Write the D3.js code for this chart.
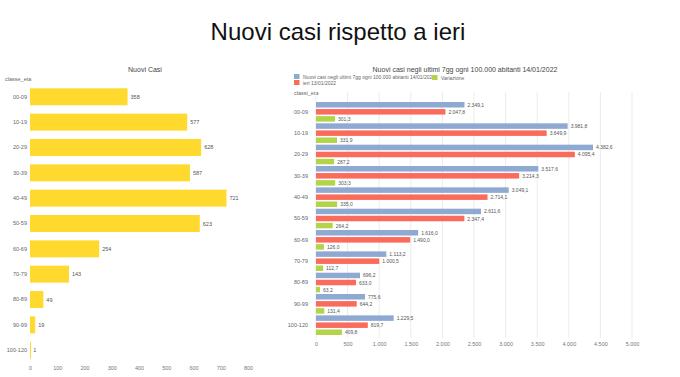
<!DOCTYPE html>
<html>
<head>
<meta charset="utf-8">
<script src="https://cdn.jsdelivr.net/npm/d3@7"></script>
<style>
  body { margin: 0; background: #fff; }
  text { font-family: "Liberation Sans", Arial, sans-serif; }
</style>
</head>
<body>
<div id="chart-area"></div>
<script>
// data
var classi = ["00-09", "10-19", "20-29", "30-39", "40-49", "50-59", "60-69", "70-79", "80-89", "90-99", "100-120"];
var nuoviCasi = [358, 577, 628, 587, 721, 623, 254, 143, 49, 19, 1];
var leftTicks = [0, 100, 200, 300, 400, 500, 600, 700, 800];

var casi7gg = [2349.1, 3981.8, 4382.6, 3517.6, 3049.1, 2611.6, 1616.0, 1113.2, 696.2, 775.6, 1229.5];
var casiIeri = [2047.8, 3649.9, 4095.4, 3214.3, 2714.1, 2347.4, 1490.0, 1000.5, 633.0, 644.2, 819.7];
var variazione = [301.3, 331.9, 287.2, 303.3, 335.0, 264.2, 126.0, 112.7, 63.2, 131.4, 409.8];
var rightTicks = [0, 500, 1000, 1500, 2000, 2500, 3000, 3500, 4000, 4500, 5000];

var seriesNames = ["Nuovi casi negli ultimi 7gg ogni 100.000 abitanti 14/01/2022", "ieri 13/01/2022", "Variazione"];
var seriesColors = ["#8eaad2", "#fb6b5b", "#b3d44a"];

var width = 680, height = 377;
var it = d3.formatLocale({ decimal: ",", thousands: ".", grouping: [3], currency: ["€", ""] });
var fmt1 = it.format(",.1f");
var fmt0 = it.format(",.0f");

var svg = d3.select("#chart-area")
    .append("svg")
        .attr("width", width)
        .attr("height", height);

svg.append("text")
    .attr("x", 338)
    .attr("y", 40)
    .attr("text-anchor", "middle")
    .attr("font-size", "24px")
    .attr("fill", "#111")
    .text("Nuovi casi rispetto a ieri");

// ---- left chart
var xL = d3.scaleLinear().domain([0, 800]).range([30, 248]);
var yL = d3.scaleBand().domain(classi).range([84, 363]).paddingInner(0.33).paddingOuter(0.17);

var gL = svg.append("g");

gL.append("text")
    .attr("x", 145).attr("y", 72)
    .attr("text-anchor", "middle")
    .attr("font-size", "7px")
    .attr("fill", "#444")
    .text("Nuovi Casi");

gL.append("text")
    .attr("x", 5).attr("y", 81)
    .attr("font-size", "5.5px")
    .attr("fill", "#666")
    .text("classe_eta");

gL.selectAll("rect")
    .data(nuoviCasi)
    .enter()
    .append("rect")
        .attr("x", xL(0))
        .attr("y", function(d, i) { return yL(classi[i]); })
        .attr("width", function(d) { return Math.max(xL(d) - xL(0), 1); })
        .attr("height", yL.bandwidth())
        .attr("fill", "#ffd92e");

gL.selectAll(".val")
    .data(nuoviCasi)
    .enter()
    .append("text")
        .attr("class", "val")
        .attr("x", function(d) { return xL(d) + 3; })
        .attr("y", function(d, i) { return yL(classi[i]) + yL.bandwidth() / 2 + 2; })
        .attr("font-size", "5.5px")
        .attr("fill", "#555")
        .text(function(d) { return d; });

var yAxisL = gL.append("g")
    .attr("transform", "translate(27, 0)")
    .call(d3.axisLeft(yL).tickSize(0).tickPadding(0));
yAxisL.select(".domain").remove();
yAxisL.selectAll("text").attr("font-size", "5.5px").attr("fill", "#666")
    .attr("font-family", "Liberation Sans, Arial, sans-serif");

var xAxisL = gL.append("g")
    .attr("transform", "translate(0, 366)")
    .call(d3.axisBottom(xL).tickValues(leftTicks).tickSize(0).tickPadding(0));
xAxisL.select(".domain").remove();
xAxisL.selectAll("text").attr("font-size", "5.5px").attr("fill", "#777")
    .attr("font-family", "Liberation Sans, Arial, sans-serif");

// ---- right chart
var xR = d3.scaleLinear().domain([0, 5000]).range([316, 632]);
var yR = d3.scaleBand().domain(classi).range([102, 335]).paddingInner(0.08).paddingOuter(0);
var yS = d3.scaleBand().domain([0, 1, 2]).range([0, yR.bandwidth()]).paddingInner(0.22);

var gR = svg.append("g");

gR.append("text")
    .attr("x", 465).attr("y", 72)
    .attr("text-anchor", "middle")
    .attr("font-size", "7px")
    .attr("fill", "#444")
    .text("Nuovi casi negli ultimi 7gg ogni 100.000 abitanti 14/01/2022");

// legend
var legendPos = [[294, 74], [294, 80], [432, 75]];
seriesNames.forEach(function(name, i) {
    gR.append("rect")
        .attr("x", legendPos[i][0]).attr("y", legendPos[i][1])
        .attr("width", 5.5).attr("height", 5)
        .attr("fill", seriesColors[i]);
    gR.append("text")
        .attr("x", legendPos[i][0] + 9).attr("y", legendPos[i][1] + 4.5)
        .attr("font-size", "5px")
        .attr("fill", "#666")
        .text(name);
});

gR.append("text")
    .attr("x", 294).attr("y", 95)
    .attr("font-size", "5.5px")
    .attr("fill", "#666")
    .text("classi_eta");

// grid
gR.selectAll(".grid")
    .data(rightTicks)
    .enter()
    .append("line")
        .attr("class", "grid")
        .attr("x1", function(d) { return xR(d); })
        .attr("x2", function(d) { return xR(d); })
        .attr("y1", 92).attr("y2", 338)
        .attr("stroke", "#e6e6e6")
        .attr("stroke-width", 0.8);

var series = [casi7gg, casiIeri, variazione];
series.forEach(function(vals, s) {
    gR.selectAll(".bar" + s)
        .data(vals)
        .enter()
        .append("rect")
            .attr("class", "bar" + s)
            .attr("x", xR(0))
            .attr("y", function(d, i) { return yR(classi[i]) + yS(s); })
            .attr("width", function(d) { return xR(d) - xR(0); })
            .attr("height", yS.bandwidth())
            .attr("fill", seriesColors[s]);

    gR.selectAll(".lab" + s)
        .data(vals)
        .enter()
        .append("text")
            .attr("class", "lab" + s)
            .attr("x", function(d) { return xR(d) + 3; })
            .attr("y", function(d, i) { return yR(classi[i]) + yS(s) + yS.bandwidth() / 2 + 2; })
            .attr("font-size", "5px")
            .attr("fill", "#555")
            .text(function(d) { return fmt1(d); });
});

var yAxisR = gR.append("g")
    .attr("transform", "translate(308, 0)")
    .call(d3.axisLeft(yR).tickSize(0).tickPadding(0));
yAxisR.select(".domain").remove();
yAxisR.selectAll("text").attr("font-size", "5.5px").attr("fill", "#666")
    .attr("font-family", "Liberation Sans, Arial, sans-serif");

var xAxisR = gR.append("g")
    .attr("transform", "translate(0, 342)")
    .call(d3.axisBottom(xR).tickValues(rightTicks).tickSize(0).tickPadding(0).tickFormat(fmt0));
xAxisR.select(".domain").remove();
xAxisR.selectAll("text").attr("font-size", "5.5px").attr("fill", "#777")
    .attr("font-family", "Liberation Sans, Arial, sans-serif");
</script>
</body>
</html>
